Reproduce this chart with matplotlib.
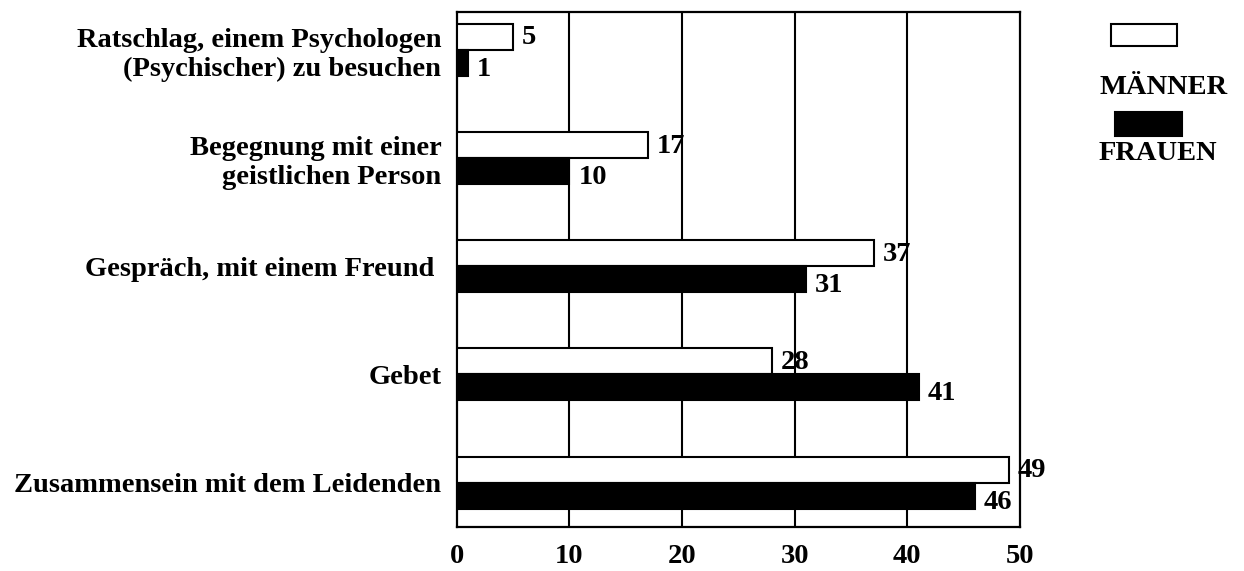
import matplotlib.pyplot as plt
import matplotlib.patches as mpatches
import numpy as np

categories = [
    "Ratschlag, einem Psychologen\n(Psychischer) zu besuchen",
    "Begegnung mit einer\ngeistlichen Person",
    "Gespräch, mit einem Freund ",
    "Gebet",
    "Zusammensein mit dem Leidenden",
]
maenner = [5, 17, 37, 28, 49]
frauen = [1, 10, 31, 41, 46]
xticks = [0, 10, 20, 30, 40, 50]

FONT = "Liberation Serif"
FS = 20.5
BAR_H = 0.24

plt.rcParams['font.family'] = FONT
plt.rcParams['font.weight'] = 'bold'

fig = plt.figure(figsize=(12.44, 5.71), dpi=100)
ax = fig.add_axes([0.367, 0.077, 0.453, 0.902])

y = np.arange(len(categories))

ax.barh(y - BAR_H / 2, maenner, height=BAR_H, color='white', edgecolor='black', linewidth=1.5, zorder=3)
ax.barh(y + BAR_H / 2, frauen, height=BAR_H, color='black', edgecolor='black', linewidth=1.5, zorder=3)

for i in range(len(categories)):
    ax.text(maenner[i] + 0.8, y[i] - BAR_H / 2 + 0.01, str(maenner[i]), fontsize=FS,
            va='center', ha='left', zorder=4)
    ax.text(frauen[i] + 0.8, y[i] + BAR_H / 2 + 0.06, str(frauen[i]), fontsize=FS,
            va='center', ha='left', zorder=4)

ax.set_xlim(0, 50)
ax.set_ylim(4.41, -0.35)

ax.set_xticks(xticks)
ax.set_xticklabels([str(t) for t in xticks], fontsize=FS)
ax.tick_params(axis='x', length=0, pad=12)

ax.set_yticks(y)
ax.set_yticklabels(categories, fontsize=FS, linespacing=1.2)
ax.tick_params(axis='y', length=0, pad=11)

for t in xticks[1:-1]:
    ax.axvline(t, color='black', linewidth=1.5, zorder=1)

for s in ax.spines.values():
    s.set_linewidth(1.6)

# legend
fig.patches.append(mpatches.Rectangle((1111 / 1244, 1 - 46 / 571), 66 / 1244, 22 / 571,
                                      transform=fig.transFigure, facecolor='white',
                                      edgecolor='black', linewidth=1.5))
fig.text(1164 / 1244, 1 - 87 / 571, "MÄNNER", fontsize=FS, ha='center', va='center')
fig.patches.append(mpatches.Rectangle((1115 / 1244, 1 - 136 / 571), 67 / 1244, 24 / 571,
                                      transform=fig.transFigure, facecolor='black',
                                      edgecolor='black', linewidth=1.5))
fig.text(1158 / 1244, 1 - 153 / 571, "FRAUEN", fontsize=FS, ha='center', va='center')

plt.savefig('out.png', dpi=100)
